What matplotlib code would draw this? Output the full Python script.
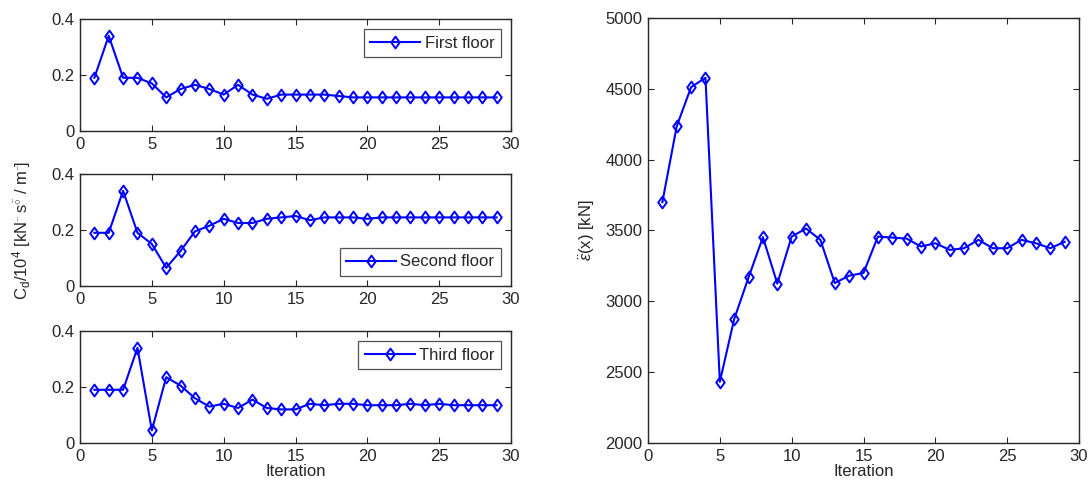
import numpy as np
import matplotlib
matplotlib.use('Agg')
import matplotlib.pyplot as plt
from matplotlib.path import Path

plt.rcParams['font.family'] = ['Liberation Sans', 'DejaVu Sans']
plt.rcParams['mathtext.fontset'] = 'custom'
plt.rcParams['mathtext.rm'] = 'Liberation Sans'
plt.rcParams['mathtext.it'] = 'Liberation Sans:italic'

iteration = list(range(1, 30))

first_floor = [0.19, 0.34, 0.19, 0.19, 0.17, 0.12, 0.15, 0.165, 0.15, 0.13,
               0.165, 0.13, 0.115, 0.13, 0.13, 0.13, 0.13, 0.125, 0.12, 0.12,
               0.12, 0.12, 0.12, 0.12, 0.12, 0.12, 0.12, 0.12, 0.12]
second_floor = [0.19, 0.19, 0.34, 0.19, 0.15, 0.065, 0.125, 0.195, 0.215, 0.24,
                0.225, 0.225, 0.24, 0.245, 0.25, 0.235, 0.245, 0.245, 0.245, 0.24,
                0.245, 0.245, 0.245, 0.245, 0.245, 0.245, 0.245, 0.245, 0.245]
third_floor = [0.19, 0.19, 0.19, 0.34, 0.045, 0.235, 0.205, 0.16, 0.13, 0.14,
               0.125, 0.155, 0.125, 0.12, 0.12, 0.14, 0.135, 0.14, 0.14, 0.135,
               0.135, 0.135, 0.14, 0.135, 0.14, 0.135, 0.135, 0.135, 0.135]
objective = [3700, 4236, 4512, 4578, 2432, 2875, 3169, 3453, 3125, 3457,
             3514, 3434, 3129, 3181, 3200, 3457, 3450, 3443, 3387, 3410,
             3363, 3375, 3434, 3375, 3375, 3434, 3410, 3375, 3420]

floor_labels = ['First floor', 'Second floor', 'Third floor']
legend_locs = ['upper right', 'lower right', 'upper right']

BLUE = '#0000ff'
TXT = '#262626'
FS = 12
W, H = 1091, 494

# MATLAB-style diamond, a bit wider than matplotlib's 'd'
DIAMOND = Path([(0, 1), (0.72, 0), (0, -1), (-0.72, 0), (0, 1)],
               [Path.MOVETO, Path.LINETO, Path.LINETO, Path.LINETO, Path.CLOSEPOLY])


def style_axes(ax):
    ax.tick_params(direction='in', top=True, right=True, labelsize=FS,
                   colors=TXT, length=4, width=0.8, pad=4)
    for s in ax.spines.values():
        s.set_color(TXT)
        s.set_linewidth(1.0)


def plot_line(ax, x, y, label=None):
    ax.plot(x, y, '-', color=BLUE, lw=1.5, marker=DIAMOND, ms=8.5,
            mfc='none', mec=BLUE, mew=1.4, label=label)


def px_axes(fig, x0, y0, x1, y1):
    return fig.add_axes([x0 / W, 1 - y1 / H, (x1 - x0) / W, (y1 - y0) / H])


fig = plt.figure(figsize=(W / 100, H / 100), dpi=100)

# left column: one panel per floor (pixel boxes)
boxes = [(80, 19, 511, 131), (80, 174, 511, 286), (80, 331, 511, 443)]
series = [first_floor, second_floor, third_floor]
for box, ys, lab, loc in zip(boxes, series, floor_labels, legend_locs):
    ax = px_axes(fig, *box)
    plot_line(ax, iteration, ys, lab)
    ax.set_xlim(0, 30)
    ax.set_ylim(0, 0.4)
    ax.set_xticks([0, 5, 10, 15, 20, 25, 30])
    ax.set_yticks([0, 0.2, 0.4])
    ax.set_yticklabels(['0', '0.2', '0.4'])
    style_axes(ax)
    leg = ax.legend(loc=loc, fontsize=FS, frameon=True, fancybox=False,
                    borderpad=0.4, handlelength=3.0, handletextpad=0.25,
                    borderaxespad=0.6)
    leg.get_frame().set_edgecolor(TXT)
    leg.get_frame().set_linewidth(0.9)
    for t in leg.get_texts():
        t.set_color(TXT)
ax.set_xlabel('Iteration', fontsize=FS, color=TXT, labelpad=0)

fig.text(22 / W, 1 - 231 / H,
         r'C$_\mathrm{d}$/10$^4$ [kN$^{\ddot{\ }}$ s$^{\ddot{\circ}}$ / m$^{\ddot{\ }}$]',
         rotation=90, ha='center', va='center', fontsize=FS, color=TXT)

# right panel: objective value per iteration
axr = px_axes(fig, 648, 18, 1079, 443)
plot_line(axr, iteration, objective)
axr.set_xlim(0, 30)
axr.set_ylim(2000, 5000)
axr.set_xticks([0, 5, 10, 15, 20, 25, 30])
axr.set_yticks([2000, 2500, 3000, 3500, 4000, 4500, 5000])
style_axes(axr)
axr.set_xlabel('Iteration', fontsize=FS, color=TXT, labelpad=0)
axr.set_ylabel(r'$\ddot{\varepsilon}$(x) [kN]', fontsize=FS, color=TXT, labelpad=6)

fig.savefig('out.png', dpi=100)
